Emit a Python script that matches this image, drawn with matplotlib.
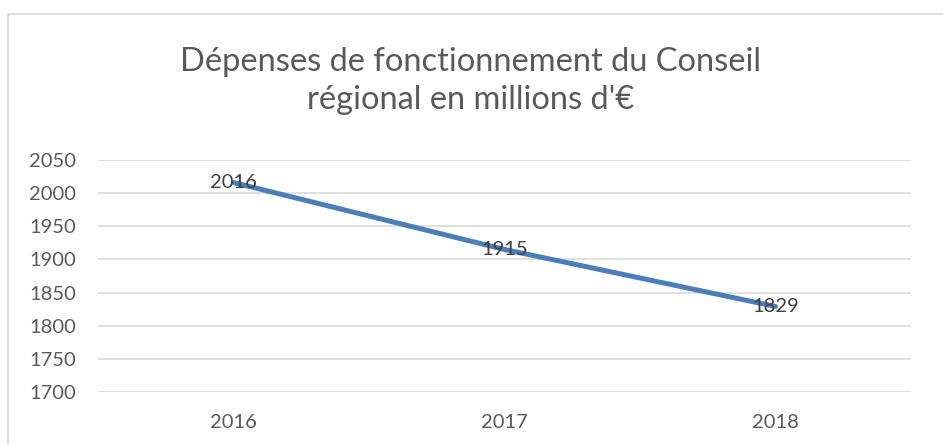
import matplotlib.pyplot as plt
from matplotlib.patches import Rectangle

years = ['2016', '2017', '2018']
depenses = [2016, 1915, 1829]
y_ticks = [1700, 1750, 1800, 1850, 1900, 1950, 2000, 2050]
title = "Dépenses de fonctionnement du Conseil\nrégional en millions d'€"

plt.rcParams['font.family'] = ['Lato', 'DejaVu Sans']
grey = '#595959'

fig = plt.figure(figsize=(9.43, 4.44), dpi=100)
W, H = 943, 444
# plot area in pixels: left 98, right 911, top 160, bottom 392
ax = fig.add_axes([98 / W, 1 - 392 / H, (911 - 98) / W, (392 - 160) / H])

# chart border like the spreadsheet frame
fig.patches.append(Rectangle((8 / W, -0.05), 1.0, 1 - 14 / H + 0.05,
                             transform=fig.transFigure, fill=False,
                             edgecolor='#D9D9D9', linewidth=1.2))

x = range(len(years))
ax.plot(x, depenses, color='#4A7EBB', linewidth=3.6, solid_capstyle='round', zorder=3)
for xi, v in zip(x, depenses):
    ax.text(xi, v, str(v), ha='center', va='center', fontsize=14.5, color='#404040', zorder=4)

ax.set_xlim(-0.5, len(years) - 0.5)
ax.set_ylim(1700, 2050)
ax.set_yticks(y_ticks)
ax.set_xticks(list(x))
ax.set_xticklabels(years)
ax.yaxis.grid(True, color='#D9D9D9', linewidth=1.2)
ax.set_axisbelow(True)
for s in ax.spines.values():
    s.set_visible(False)
ax.tick_params(length=0, labelsize=14.5, colors=grey)
ax.tick_params(axis='y', pad=16)
ax.tick_params(axis='x', pad=16)

fig.text(471 / W, 1 - 81 / H, title, ha='center', va='center', fontsize=23.5,
         color=grey, linespacing=1.3)

fig.savefig('out.png', dpi=100)
